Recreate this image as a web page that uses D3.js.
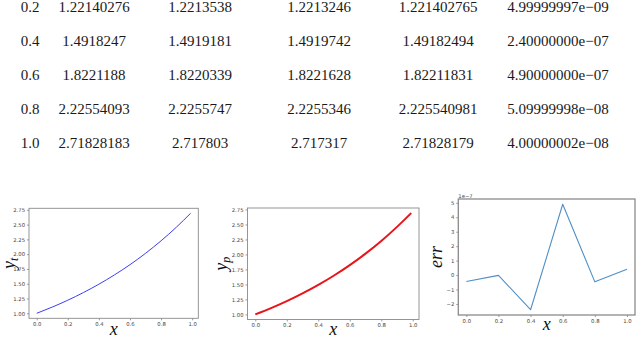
<!DOCTYPE html>
<html>
<head>
<meta charset="utf-8">
<script src="https://cdn.jsdelivr.net/npm/d3@7"></script>
<style>
  html, body { margin: 0; padding: 0; background: #fff; }
  svg { display: block; }
  .serif { font-family: "Liberation Serif", "Times New Roman", Times, serif; }
</style>
</head>
<body>
<svg id="chart" width="640" height="338"></svg>
<script>
// table columns, as printed
const tableX = ["0.2", "0.4", "0.6", "0.8", "1.0"];
const tableExact = ["1.22140276", "1.4918247", "1.8221188", "2.22554093", "2.71828183"];
const tableA = ["1.2213538", "1.4919181", "1.8220339", "2.2255747", "2.717803"];
const tableB = ["1.2213246", "1.4919742", "1.8221628", "2.2255346", "2.717317"];
const tableC = ["1.221402765", "1.49182494", "1.82211831", "2.225540981", "2.71828179"];
const tableErr = ["4.99999997e\u221209", "2.40000000e\u221207", "4.90000000e\u221207", "5.09999998e\u221208", "4.00000002e\u221208"];

// curves
const curveX = [0, 0.1, 0.2, 0.3, 0.4, 0.5, 0.6, 0.7, 0.8, 0.9, 0.99];
const trueY = [1.0, 1.105, 1.221, 1.35, 1.492, 1.649, 1.822, 2.014, 2.226, 2.46, 2.691];
const predY = [1.0, 1.105, 1.221, 1.35, 1.492, 1.649, 1.822, 2.014, 2.225, 2.46, 2.69];

// error plot (units of 1e-7)
const errX = [0.0, 0.2, 0.4, 0.6, 0.8, 1.0];
const errY = [-0.45, -0.02, -2.4, 4.9, -0.47, 0.4];

const yTicks12 = [1.0, 1.25, 1.5, 1.75, 2.0, 2.25, 2.5, 2.75];
const xTicks = [0, 0.2, 0.4, 0.6, 0.8, 1.0];
const errTicks = [-2, -1, 0, 1, 2, 3, 4, 5];

const svg = d3.select("#chart");

// ---- table ----
const columns = [
  { vals: tableX, cx: 30 },
  { vals: tableExact, cx: 94 },
  { vals: tableA, cx: 200 },
  { vals: tableB, cx: 319 },
  { vals: tableC, cx: 438 },
  { vals: tableErr, cx: 558 }
];
const rowY = d3.scaleLinear().domain([0, 4]).range([12, 147.5]);

const table = svg.append("g").attr("class", "table serif");
columns.forEach((col) => {
  table.selectAll(null)
    .data(col.vals)
    .enter().append("text")
      .attr("x", col.cx)
      .attr("y", (d, i) => rowY(i))
      .attr("text-anchor", "middle")
      .style("font-size", "15px")
      .style("fill", "#1a1a1a")
      .text((d) => d);
});

// matplotlib-like autoscale: data extent with 5% margin
const padded = (vals) => {
  const [lo, hi] = d3.extent(vals);
  const m = (hi - lo) * 0.05;
  return [lo - m, hi + m];
};

const drawPlot = (opts) => {
  const g = svg.append("g");
  const x = d3.scaleLinear().domain(padded(opts.xs)).range([opts.left, opts.right]);
  const y = d3.scaleLinear().domain(padded(opts.ys)).range([opts.bottom, opts.top]);

  const xAxis = d3.axisBottom(x).tickValues(opts.xTicks).tickSize(2).tickPadding(2)
    .tickFormat(d3.format(".1f"));
  const yAxis = d3.axisLeft(y).tickValues(opts.yTicks).tickSize(2).tickPadding(2)
    .tickFormat(opts.yFormat);

  const gx = g.append("g").attr("transform", `translate(0,${opts.bottom})`).call(xAxis);
  const gy = g.append("g").attr("transform", `translate(${opts.left},0)`).call(yAxis);
  [gx, gy].forEach((a) => {
    a.select(".domain").remove();
    a.selectAll("line").attr("stroke", "#555").attr("stroke-width", 0.6);
    a.selectAll("text")
      .style("font-family", "'DejaVu Sans', sans-serif")
      .style("font-size", "5.3px")
      .attr("fill", "#444");
  });

  g.append("rect")
    .attr("x", opts.left).attr("y", opts.top)
    .attr("width", opts.right - opts.left).attr("height", opts.bottom - opts.top)
    .attr("fill", "none").attr("stroke", opts.frame).attr("stroke-width", opts.frameWidth);

  const line = d3.line()
    .x((d, i) => x(opts.xs[i]))
    .y((d) => y(d))
    .curve(opts.curve);
  g.append("path")
    .datum(opts.ys)
    .attr("d", line)
    .attr("fill", "none")
    .attr("stroke", opts.color)
    .attr("stroke-width", opts.lineWidth)
    .attr("stroke-linejoin", "round");

  g.append("text")
    .attr("class", "serif")
    .attr("x", (opts.left + opts.right) / 2)
    .attr("y", opts.xLabelY)
    .attr("text-anchor", "middle")
    .style("font-style", "italic")
    .style("font-size", "18px")
    .style("fill", "#111")
    .text("x");

  const yl = g.append("text")
    .attr("class", "serif")
    .attr("transform", `translate(${opts.yLabelX},${(opts.top + opts.bottom) / 2}) rotate(-90)`)
    .attr("text-anchor", "middle")
    .style("font-style", "italic")
    .style("font-size", "18px")
    .style("fill", "#111");
  yl.append("tspan").text(opts.yLabel);
  if (opts.yLabelSub) {
    yl.append("tspan").attr("dy", 3).style("font-size", "12px").text(opts.yLabelSub);
  }
  return { g, x, y };
};

drawPlot({
  xs: curveX, ys: trueY, left: 29, right: 198.3, top: 208.3, bottom: 318.3,
  xTicks: xTicks, yTicks: yTicks12, yFormat: d3.format(".2f"),
  color: "#3d3df2", lineWidth: 1, curve: d3.curveMonotoneX,
  frame: "#8a8a8a", frameWidth: 0.9,
  xLabelY: 335, yLabelX: 15, yLabel: "y", yLabelSub: "t"
});

drawPlot({
  xs: curveX, ys: predY, left: 247.5, right: 419, top: 208, bottom: 319.5,
  xTicks: xTicks, yTicks: yTicks12, yFormat: d3.format(".2f"),
  color: "#e8141a", lineWidth: 2, curve: d3.curveMonotoneX,
  frame: "#8a8a8a", frameWidth: 0.9,
  xLabelY: 335, yLabelX: 227, yLabel: "y", yLabelSub: "p"
});

const errPlot = drawPlot({
  xs: errX, ys: errY, left: 458.3, right: 635, top: 199, bottom: 315,
  xTicks: xTicks, yTicks: errTicks, yFormat: d3.format("d"),
  color: "#4f8fc6", lineWidth: 1.1, curve: d3.curveLinear,
  frame: "#8a8a8a", frameWidth: 1.3,
  xLabelY: 330, yLabelX: 442, yLabel: "err", yLabelSub: null
});

// offset text of the err axis
errPlot.g.append("text")
  .attr("x", 458.3)
  .attr("y", 197.5)
  .style("font-family", "'DejaVu Sans', sans-serif")
  .style("font-size", "5.3px")
  .attr("fill", "#444")
  .text("1e\u22127");
</script>
</body>
</html>
